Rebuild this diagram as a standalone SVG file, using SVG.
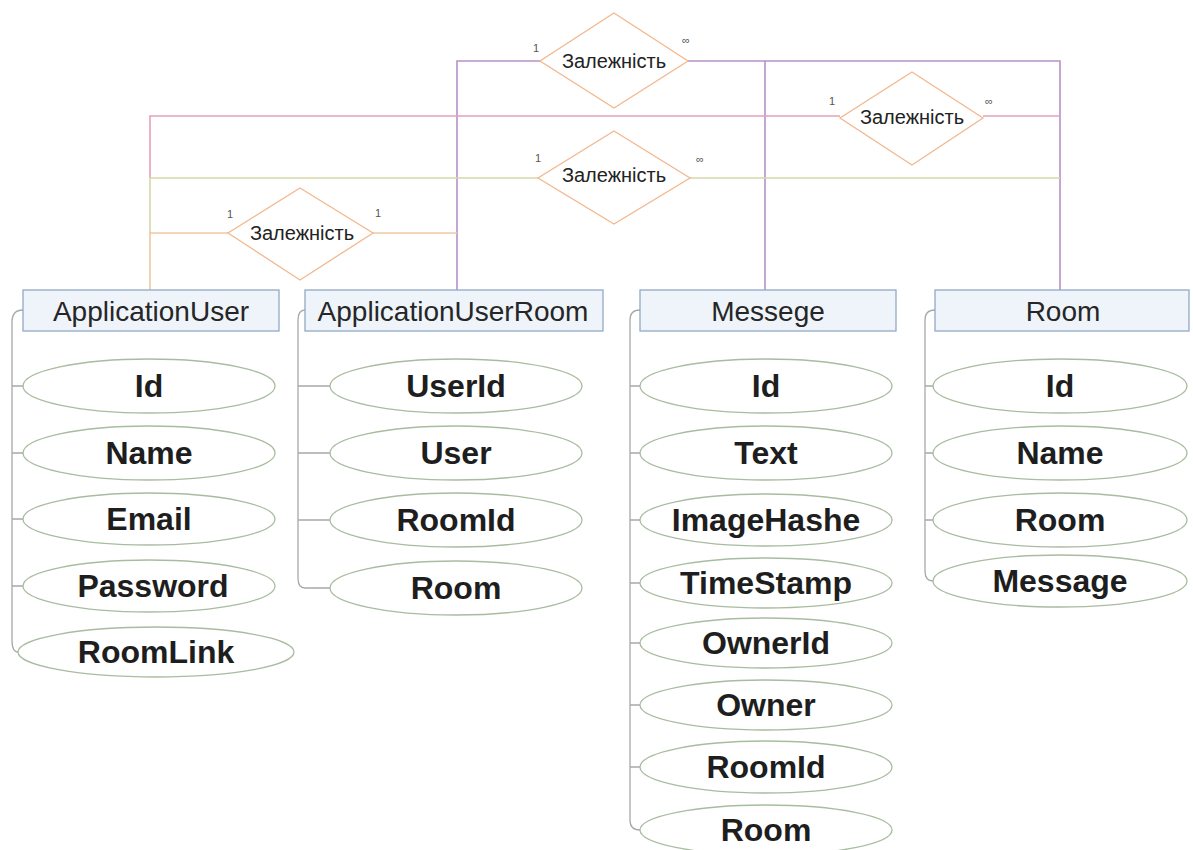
<svg xmlns="http://www.w3.org/2000/svg" width="1193" height="850" viewBox="0 0 1193 850">
<style>
.hdr{fill:#eef4fa;stroke:#93a9c6;stroke-width:1.3}
.hdrt{font-family:"Liberation Sans",Arial,sans-serif;font-size:28px;fill:#262626;text-anchor:middle}
.att{fill:#ffffff;stroke:#a8bca0;stroke-width:1.3}
.attt{font-family:"Liberation Sans",Arial,sans-serif;font-size:32px;font-weight:bold;fill:#1e1e1e;text-anchor:middle}
.dia{fill:#ffffff;stroke:#f2b890;stroke-width:1.3}
.diat{font-family:"Liberation Sans",Arial,sans-serif;font-size:20px;fill:#222;text-anchor:middle}
.card{font-family:"Liberation Sans",Arial,sans-serif;font-size:11px;fill:#555;text-anchor:middle}
.br{fill:none;stroke:#a8a8a8;stroke-width:1.3}
.l1{fill:none;stroke:#b890c8;stroke-width:1.6}
.l2{fill:none;stroke:#e8a0b8;stroke-width:1.6}
.l3{fill:none;stroke:#d6d8a8;stroke-width:1.6}
.l4{fill:none;stroke:#f0c8a0;stroke-width:1.6}
</style>
<rect width="1193" height="850" fill="#ffffff"/>
<g id="connectors">
<path class="l1" d="M457,290 V61 H540 M688,61 H1060 V290 M765,61 V290"/>
<path class="l2" d="M150,178 V116 H840 M983,116 H1060"/>
<path class="l3" d="M150,178 H540 M690,178 H1060 M150,178 V233"/>
<path class="l4" d="M150,290 V233 H228 M373,233 H457"/>
</g>
<g id="rel1">
<polygon class="dia" points="614,13 688,61 614,108 540,61"/>
<text class="diat" x="614" y="68">Залежність</text>
<text class="card" x="536" y="52">1</text>
<text class="card" x="686" y="44">∞</text>
</g>
<g id="rel2">
<polygon class="dia" points="912,72 983,118 912,165 840,118"/>
<text class="diat" x="912" y="124">Залежність</text>
<text class="card" x="832" y="105">1</text>
<text class="card" x="989" y="105">∞</text>
</g>
<g id="rel3">
<polygon class="dia" points="614,131 690,178 614,224 538,178"/>
<text class="diat" x="614" y="182">Залежність</text>
<text class="card" x="538" y="162">1</text>
<text class="card" x="700" y="163">∞</text>
</g>
<g id="rel4">
<polygon class="dia" points="300,188 373,233 300,280 228,233"/>
<text class="diat" x="302" y="240">Залежність</text>
<text class="card" x="230" y="218">1</text>
<text class="card" x="378" y="217">1</text>
</g>
<g id="ApplicationUser">
<path class="br" d="M23,310 Q12,310 12,322 V640 Q12,652 18,652 M12,386 H23 M12,453 H23 M12,519 H23 M12,586 H23"/>
<rect class="hdr" x="23" y="290" width="256" height="41"/>
<text class="hdrt" x="151" y="321">ApplicationUser</text>
<ellipse class="att" cx="149" cy="386" rx="126" ry="27"/>
<text class="attt" x="149" y="397">Id</text>
<ellipse class="att" cx="149" cy="453" rx="126" ry="27"/>
<text class="attt" x="149" y="464">Name</text>
<ellipse class="att" cx="149" cy="519" rx="126" ry="26"/>
<text class="attt" x="149" y="530">Email</text>
<ellipse class="att" cx="149" cy="586" rx="126" ry="26"/>
<text class="attt" x="153" y="597">Password</text>
<ellipse class="att" cx="156" cy="652" rx="138" ry="25"/>
<text class="attt" x="156" y="663">RoomLink</text>
</g>
<g id="ApplicationUserRoom">
<path class="br" d="M305,310 Q298,310 298,320 V578 Q298,588 305,588 H330 M298,386 H330 M298,453 H330 M298,520 H330"/>
<rect class="hdr" x="305" y="290" width="298" height="41"/>
<text class="hdrt" x="453" y="321">ApplicationUserRoom</text>
<ellipse class="att" cx="456" cy="386" rx="126" ry="27"/>
<text class="attt" x="456" y="397">UserId</text>
<ellipse class="att" cx="456" cy="453" rx="126" ry="27"/>
<text class="attt" x="456" y="464">User</text>
<ellipse class="att" cx="456" cy="520" rx="126" ry="27"/>
<text class="attt" x="456" y="531">RoomId</text>
<ellipse class="att" cx="456" cy="588" rx="126" ry="27"/>
<text class="attt" x="456" y="599">Room</text>
</g>
<g id="Messege">
<path class="br" d="M640,310 Q630,310 630,320 V820 Q630,830 640,830 M630,386 H640 M630,453 H640 M630,520 H640 M630,583 H640 M630,643 H640 M630,705 H640 M630,767 H640"/>
<rect class="hdr" x="640" y="290" width="256" height="41"/>
<text class="hdrt" x="768" y="321">Messege</text>
<ellipse class="att" cx="766" cy="386" rx="126" ry="27"/>
<text class="attt" x="766" y="397">Id</text>
<ellipse class="att" cx="766" cy="453" rx="126" ry="27"/>
<text class="attt" x="766" y="464">Text</text>
<ellipse class="att" cx="766" cy="520" rx="126" ry="26"/>
<text class="attt" x="766" y="531">ImageHashe</text>
<ellipse class="att" cx="766" cy="583" rx="126" ry="25"/>
<text class="attt" x="766" y="594">TimeStamp</text>
<ellipse class="att" cx="766" cy="643" rx="126" ry="25"/>
<text class="attt" x="766" y="654">OwnerId</text>
<ellipse class="att" cx="766" cy="705" rx="126" ry="25"/>
<text class="attt" x="766" y="716">Owner</text>
<ellipse class="att" cx="766" cy="767" rx="126" ry="26"/>
<text class="attt" x="766" y="778">RoomId</text>
<ellipse class="att" cx="766" cy="830" rx="126" ry="25"/>
<text class="attt" x="766" y="841">Room</text>
</g>
<g id="Room">
<path class="br" d="M935,310 Q925,310 925,320 V571 Q925,581 933,581 M925,386 H933 M925,453 H933 M925,520 H933"/>
<rect class="hdr" x="935" y="290" width="254" height="41"/>
<text class="hdrt" x="1063" y="321">Room</text>
<ellipse class="att" cx="1060" cy="386" rx="127" ry="27"/>
<text class="attt" x="1060" y="397">Id</text>
<ellipse class="att" cx="1060" cy="453" rx="127" ry="27"/>
<text class="attt" x="1060" y="464">Name</text>
<ellipse class="att" cx="1060" cy="520" rx="127" ry="27"/>
<text class="attt" x="1060" y="531">Room</text>
<ellipse class="att" cx="1060" cy="581" rx="127" ry="26"/>
<text class="attt" x="1060" y="592">Message</text>
</g>
</svg>
